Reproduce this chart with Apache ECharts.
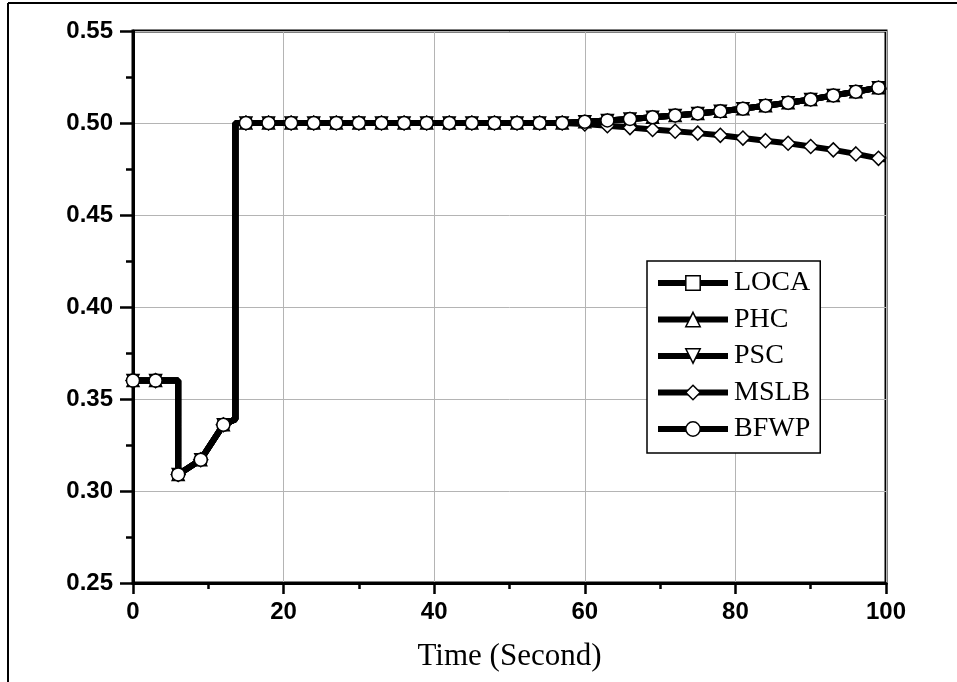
<!DOCTYPE html>
<html>
<head>
	<meta charset="UTF-8">
	<title>Time (Second)</title>
	<style>
		html, body { margin: 0; padding: 0; background: #fff; }
		#main { width: 957px; height: 682px; }
	</style>
</head>
<body>
	<div id="main"></div>
	<script src="https://cdn.jsdelivr.net/npm/echarts@6/dist/echarts.min.js"></script>
	<script>
		// time points of the curves (markers drawn every 3 s)
		var timeSec = [0, 3, 6, 6, 9, 12, 13.6, 13.6, 15, 18, 21, 24, 27, 30, 33, 36, 39, 42, 45, 48, 51, 54, 57,
			60, 63, 66, 69, 72, 75, 78, 81, 84, 87, 90, 93, 96, 99, 100];

		// shared part, t = 0 .. 57
		var commonStart = [0.360, 0.360, 0.360, 0.309, 0.317, 0.336, 0.339, 0.500,
			0.500, 0.500, 0.500, 0.500, 0.500, 0.500, 0.500, 0.500, 0.500, 0.500, 0.500, 0.500, 0.500, 0.500, 0.500];

		// t = 60 .. 100
		var riseEnd = [0.5007, 0.5014, 0.5022, 0.5031, 0.5041, 0.5052, 0.5064, 0.5078, 0.5094, 0.5110, 0.5128, 0.5150, 0.5170, 0.5192, 0.5198];
		var fallEnd = [0.4995, 0.4985, 0.4975, 0.4965, 0.4955, 0.4945, 0.4933, 0.4918, 0.4904, 0.4890, 0.4872, 0.4854, 0.4832, 0.4808, 0.4801];

		var locaVals = commonStart.concat(riseEnd);
		var phcVals = commonStart.concat(riseEnd);
		var pscVals = commonStart.concat(riseEnd);
		var mslbVals = commonStart.concat(fallEnd);
		var bfwpVals = commonStart.concat(riseEnd);

		var seriesNames = ['LOCA', 'PHC', 'PSC', 'MSLB', 'BFWP'];
		var xTicks = [0, 100, 20];
		var yTicks = [0.25, 0.55, 0.05];

		var markerStep = 3;

		function buildData(vals) {
			var out = [];
			for (var i = 0; i < timeSec.length; i++) {
				var t = timeSec[i];
				var last = i === timeSec.length - 1;
				var mark = (t % markerStep === 0) && (last || timeSec[i + 1] !== t);
				var item = { value: [t, vals[i]] };
				if (!mark) item.symbol = 'none';
				out.push(item);
			}
			return out;
		}

		function makeSeries(name, vals, symbol, size, rotate) {
			return {
				name: name,
				type: 'line',
				data: buildData(vals),
				symbol: symbol,
				symbolSize: size,
				symbolRotate: rotate || 0,
				showAllSymbol: true,
				color: '#000',
				lineStyle: { color: '#000', width: 6 },
				itemStyle: { color: '#fff', borderColor: '#000', borderWidth: 1.5 },
				emphasis: { disabled: true },
				z: 3
			};
		}

		var myChart = echarts.init(document.getElementById('main'));

		var option = {
			animation: false,
			backgroundColor: '#fff',
			grid: {
				left: 133, right: 71, top: 31, bottom: 99,
				show: true, borderColor: '#000', borderWidth: 3,
				containLabel: false
			},
			graphic: [
				{ type: 'line', shape: { x1: 8, y1: 3, x2: 957, y2: 3 }, style: { stroke: '#000', lineWidth: 2 } },
				{ type: 'line', shape: { x1: 8, y1: 3, x2: 8, y2: 682 }, style: { stroke: '#000', lineWidth: 2 } }
			],
			legend: {
				data: seriesNames,
				orient: 'vertical',
				left: 647,
				top: 261,
				padding: [8, 10, 10, 8],
				itemWidth: 70,
				itemHeight: 18,
				itemGap: 8.5,
				borderColor: '#000',
				borderWidth: 1.5,
				backgroundColor: '#fff',
				lineStyle: { color: '#000', width: 6 },
				itemStyle: { color: '#fff', borderColor: '#000', borderWidth: 1.5 },
				textStyle: {
					fontFamily: 'Liberation Serif',
					fontSize: 28,
					lineHeight: 28,
					color: '#000',
					padding: [0, 0, 0, 1]
				},
				z: 10
			},
			xAxis: {
				type: 'value',
				min: xTicks[0], max: xTicks[1], interval: xTicks[2],
				name: 'Time (Second)',
				nameLocation: 'middle',
				nameGap: 58,
				nameTextStyle: { fontFamily: 'Liberation Serif', fontSize: 31, color: '#000' },
				axisLine: { lineStyle: { color: '#000', width: 3 } },
				axisTick: { inside: false, length: 11, lineStyle: { color: '#000', width: 2.5 } },
				minorTick: { show: true, splitNumber: 2, length: 6, lineStyle: { color: '#000', width: 2.5 } },
				splitLine: { show: true, lineStyle: { color: '#b4b4b4', width: 1 } },
				axisLabel: {
					margin: 17,
					fontFamily: 'Liberation Sans', fontWeight: 'bold', fontSize: 24, color: '#000'
				}
			},
			yAxis: {
				type: 'value',
				min: yTicks[0], max: yTicks[1], interval: yTicks[2],
				axisLine: { show: true, lineStyle: { color: '#000', width: 3 } },
				axisTick: { show: true, inside: false, length: 13, lineStyle: { color: '#000', width: 2.5 } },
				minorTick: { show: true, splitNumber: 2, length: 7, lineStyle: { color: '#000', width: 2.5 } },
				splitLine: { show: true, lineStyle: { color: '#b4b4b4', width: 1 } },
				axisLabel: {
					margin: 20,
					fontFamily: 'Liberation Sans', fontWeight: 'bold', fontSize: 24, color: '#000',
					formatter: function (v) { return v.toFixed(2); }
				}
			},
			series: [
				makeSeries('LOCA', locaVals, 'rect', 10),
				makeSeries('PHC', phcVals, 'triangle', 12),
				makeSeries('PSC', pscVals, 'triangle', 12, 180),
				makeSeries('MSLB', mslbVals, 'diamond', 14),
				makeSeries('BFWP', bfwpVals, 'circle', 13)
			]
		};

		myChart.setOption(option);
	</script>
</body>
</html>
